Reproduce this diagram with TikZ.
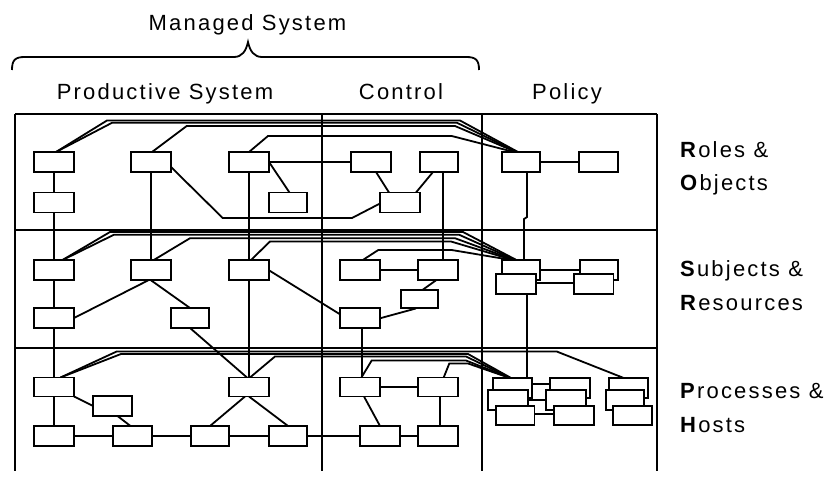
\documentclass[tikz,border=0pt]{standalone}
\usepackage{fontspec}
\setmainfont{Liberation Sans}[LetterSpace=10]
\usetikzlibrary{backgrounds}
\begin{document}
\begin{tikzpicture}[x=1pt,y=-1pt,
  bx/.style={draw, fill=white, line width=1.9pt, minimum width=40pt,
    minimum height=20pt, inner sep=0pt, outer sep=0pt},
  ln/.style={line width=1.8pt, line join=miter},
  gridline/.style={line width=1.9pt},
  lbl/.style={inner sep=0pt, font=\fontsize{22}{26}\selectfont}]
\useasboundingbox (0,0) rectangle (833,478);

% ---- headings ----
\node[lbl, anchor=base] (managed) at (247.5,31) {Managed System};
\node[lbl, anchor=base] (prod) at (165,100) {Productive System};
\node[lbl, anchor=base] (ctrl) at (401,100) {Control};
\node[lbl, anchor=base] (pol) at (567,100) {Policy};
\draw[ln] (12,70) .. controls (12,60) and (15,57) .. (25,57) -- (234,57)
  .. controls (242,57) and (246,51) .. (248,42)
  .. controls (250,51) and (254,57) .. (262,57) -- (466,57)
  .. controls (476,57) and (479,60) .. (479,70);

% ---- layer names ----
\node[lbl, anchor=base west] (ro1) at (680,157.5) {\textbf{R}oles \&};
\node[lbl, anchor=base west] (ro2) at (680,190.5) {\textbf{O}bjects};
\node[lbl, anchor=base west] (sr1) at (680,277) {\textbf{S}ubjects \&};
\node[lbl, anchor=base west] (sr2) at (680,311) {\textbf{R}esources};
\node[lbl, anchor=base west] (ph1) at (680,398.5) {\textbf{P}rocesses \&};
\node[lbl, anchor=base west] (ph2) at (680,432) {\textbf{H}osts};

% ---- roles & objects ----
\node[bx] (a1) at (54,162) {};
\node[bx] (a2) at (54,202.5) {};
\node[bx] (b1) at (151,162) {};
\node[bx] (c1) at (249,162) {};
\node[bx, minimum width=38pt] (c2) at (288,202.5) {};
\node[bx] (d1) at (371,162) {};
\node[bx, minimum width=38.5pt] (e1) at (439,162) {};
\node[bx] (f1) at (400,202.5) {};
\node[bx, minimum width=38.5pt] (p1) at (521,162) {};
\node[bx, minimum width=38.5pt] (p2) at (598.5,162) {};

% ---- subjects & resources ----
\node[bx] (a3) at (54,270.3) {};
\node[bx] (a4) at (54,318) {};
\node[bx] (b3) at (151,270.3) {};
\node[bx, minimum width=38pt] (b4) at (190,318) {};
\node[bx] (c3) at (249,270.3) {};
\node[bx] (d3) at (360,270.3) {};
\node[bx] (e3) at (438,270.3) {};
\node[bx, minimum width=37.5pt, minimum height=18.5pt] (g2) at (419.5,299.2) {};
\node[bx] (d4) at (360,318.3) {};
\node[bx, minimum width=38.5pt] (p3) at (521,270.3) {};
\node[bx] (p3b) at (516,284.2) {};
\node[bx, minimum width=38.5pt] (p4) at (599,270.3) {};
\node[bx, minimum width=39.5pt] (p4b) at (593.7,284.2) {};

% ---- processes & hosts ----
\node[bx, minimum height=19pt] (a5) at (54,387) {};
\node[bx] (a6) at (54,436) {};
\node[bx, minimum width=38.5pt] (h3) at (112.5,406) {};
\node[bx, minimum width=38.5pt] (b6) at (132.5,436) {};
\node[bx, minimum height=19pt] (c5) at (249,387) {};
\node[bx, minimum width=38.5pt] (c6a) at (210,436) {};
\node[bx, minimum width=38pt] (c6b) at (288,436) {};
\node[bx, minimum height=19pt] (d5) at (360,387) {};
\node[bx, minimum height=19pt] (e5) at (438,387) {};
\node[bx] (d6) at (380,436) {};
\node[bx] (e6) at (438,436) {};

\node[bx, minimum width=39.5pt] (q1) at (512.5,387.7) {};
\node[bx] (q2) at (508.3,400) {};
\node[bx, minimum width=38.5pt, minimum height=18.5pt] (q3) at (515.2,415.3) {};
\node[bx] (r1) at (570,387.7) {};
\node[bx] (r2) at (566,400) {};
\node[bx, minimum height=18.5pt] (r3) at (574,415.3) {};
\node[bx, minimum width=39pt] (s1) at (628.8,387.7) {};
\node[bx, minimum width=38pt] (s2) at (625,400) {};
\node[bx, minimum width=38.5pt, minimum height=18.5pt] (s3) at (632.5,415.3) {};

\begin{pgfonlayer}{background}
% grid of layers and parts
\draw[gridline] (15,114) -- (657,114);
\draw[gridline] (15,230) -- (657,230);
\draw[gridline] (15,348) -- (657,348);
\foreach \gx in {15,322,482,657}
  \draw[gridline] (\gx,114) -- (\gx,471);

% roles & objects links
\draw[ln] (a1) -- (a2);
\draw[ln] (a2) -- (a3);
\draw[ln] (b1) -- (b3);
\draw[ln] (c1) -- (c3);
\draw[ln] ([xshift=4pt]e1.south) -- ([xshift=4pt]e1.south |- e3.north);
\draw[ln] (c1.east) -- (d1.west);
\draw[ln] (p1.east) -- (p2.west);
\draw[ln] (c1.east) -- ([xshift=1.5pt]c2.north);
\draw[ln] ([yshift=-5pt]b1.east) -- (222.7,218) -- (352,218) -- ([yshift=-1pt]f1.west);
\draw[ln] ([xshift=5pt]d1.south) -- ([xshift=-11pt]f1.north);
\draw[ln] ([xshift=-6pt]e1.south) -- ([xshift=16pt]f1.north);
\draw[ln] ([xshift=6pt]p1.south) -- ++(0,45) -- ++(-3,2) -- ([xshift=3pt]p3.north);
% bundle to the role
\draw[ln] ([xshift=2pt]a1.north) -- (107,120.5) -- (460,120.5) -- ([xshift=-3pt]p1.north);
\draw[ln] ([xshift=2pt]a1.north) -- (112,122.8) -- (457,122.8) -- ([xshift=-4pt]p1.north);
\draw[ln] ([xshift=1pt]b1.north) -- (186.7,126) -- (455,126) -- ([xshift=-5pt]p1.north);
\draw[ln] (c1.north) -- (268,136) -- (451.7,136) -- ([xshift=-7pt]p1.north);

% subjects & resources links
\draw[ln] (a3) -- (a4);
\draw[ln] (a4) -- (a5);
\draw[ln] (c3) -- (c5);
\draw[ln] (d3.east) -- (e3.west);
\draw[ln] (p3.east) -- (p4.west);
\draw[ln] ([yshift=1pt]p3b.east) -- ([yshift=1pt]p4b.west);
\draw[ln] (a4.east) -- ([xshift=-2.7pt]b3.south);
\draw[ln] (b3.south) -- (b4.north);
\draw[ln] (b4.south) -- ([xshift=-2pt]c5.north);
\draw[ln] (c3.east) -- ([yshift=4pt]d4.west);
\draw[ln] ([xshift=-2pt]e3.south) -- ([xshift=3pt]g2.north);
\draw[ln] (d4.east) -- ([xshift=-3.5pt]g2.south);
\draw[ln] ([xshift=2pt]d4.south) -- ([xshift=2pt]d4.south |- d5.north);
\draw[ln] ([xshift=11pt]p3b.south) -- ([xshift=11pt]p3b.south |- q1.north);
% bundle to the subject
\draw[ln] ([xshift=8pt]a3.north) -- (110,232) -- (463,232) -- ([xshift=-4pt]p3.north);
\draw[ln] ([xshift=8pt]a3.north) -- (114,234.7) -- (459,234.7) -- ([xshift=-5pt]p3.north);
\draw[ln] ([xshift=2.3pt]b3.north) -- (190,238.2) -- (455,238.2) -- ([xshift=-6pt]p3.north);
\draw[ln] ([xshift=1.7pt]c3.north) -- (270,241.5) -- (451,241.5) -- ([xshift=-7pt]p3.north);
\draw[ln] ([xshift=2.4pt]d3.north) -- (378.3,250) -- (451.7,250) -- ([xshift=-8pt]p3.north);

% processes & hosts links
\draw[ln] (a5) -- (a6);
\draw[ln] (a5.south east) -- (h3.west);
\draw[ln] ([xshift=5pt]h3.south) -- ([xshift=-2pt]b6.north);
\draw[ln] (a6.east) -- (b6.west);
\draw[ln] (b6.east) -- (c6a.west);
\draw[ln] (c6a.east) -- (c6b.west);
\draw[ln] (c6b.east) -- (d6.west);
\draw[ln] (d6.east) -- (e6.west);
\draw[ln] (d5.east) -- (e5.west);
\draw[ln] ([xshift=2pt]e5.south) -- ([xshift=2pt]e5.south |- e6.north);
\draw[ln] ([xshift=-4pt]c5.south) -- (c6a.north);
\draw[ln] (c5.south) -- (c6b.north);
\draw[ln] ([xshift=4pt]d5.south) -- (d6.north);
\draw[ln] ([yshift=4pt]q1.east) -- ([yshift=4pt]r1.west);
\draw[ln] (q2.east) -- (r2.west);
\draw[ln] ([yshift=1.5pt]q3.east) -- ([yshift=1.5pt]r3.west);
% bundle to the processes
\draw[ln] ([xshift=6.5pt]a5.north) -- (116.7,351.5) -- (556.7,351.5) -- ([xshift=-5.8pt]s1.north);
\draw[ln] ([xshift=6.5pt]a5.north) -- (121,354) -- (468,354) -- ([xshift=-2pt]q1.north);
\draw[ln] ([xshift=1pt]c5.north) -- (275,356.5) -- (466,356.5) -- ([xshift=-2.5pt]q1.north);
\draw[ln] ([xshift=1.4pt]d5.north) -- (371.7,360.5) -- (466,360.5) -- ([xshift=-3pt]q1.north);
\draw[ln] ([xshift=5.7pt]e5.north) -- (449.3,363.5) -- (468,363.5) -- ([xshift=-3.5pt]q1.north);
\end{pgfonlayer}
\end{tikzpicture}
\end{document}
